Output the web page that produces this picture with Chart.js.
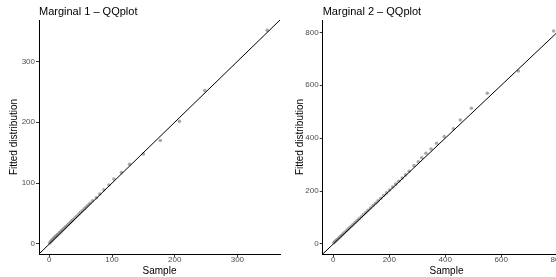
<!DOCTYPE html>
<html>
<head>
<meta charset="utf-8">
<script src="https://cdn.jsdelivr.net/npm/chart.js@4/dist/chart.umd.min.js"></script>
<style>
html,body{margin:0;padding:0;background:#fff;overflow:hidden;width:556px;height:277px;}
.wrap{position:absolute;top:0;height:277px;}
</style>
</head>
<body>
<div class="wrap" style="left:0;width:290px;"><canvas id="c1" width="290" height="277"></canvas></div>
<div class="wrap" style="left:278px;width:300px;"><canvas id="c2" width="300" height="277"></canvas></div>
<script>
// ---- Panel 1 data ----
const title1 = "Marginal 1 \u2013 QQplot";
const sample1 = [0.6,2,3,4,5,6,7,8,9,10,11,12,13,14,16,17,19,20,22,24,26,28,30,32,34,36,38,41,44,47,50,53,56,59,62,65,69,75,80.5,87,95,103,115,128,150,177,207.5,248,347.6];
const fitted1 = [1.6,3.5,4.5,6,7,8,9,10,11,12,13,14,15,16,18,19,21,22,24,26,28,30,32,34,36,38,40,43,46,49,52,55,58,61,64,67,71,76,82,89,97,106.6,117.5,131,148,170,201.5,252,351];
const limits1 = [-16.5, 368];
const ticks1 = [0, 100, 200, 300];

// ---- Panel 2 data ----
const title2 = "Marginal 2 \u2013 QQplot";
const sample2 = [2,6,10,14,19,24,29,34,40,46,52,58,64,71,78,85,92,100,108,116,124,133,142,151,160,170,180,190,201,212,223,234,246,258,271,288,303.6,316,331,349,369,396,429,453.6,493,550,661,787];
const fitted2 = [5,9,13,17,22,27,32,37,43,49,55,61,67,74,81,88,95,103,111,119,127,136,145,154,163,173,183,193,204,215,226,237,249,261,275,296,311,326,343,359,380.5,405.6,435,468.6,513,569.5,654,805];
const limits2 = [-38, 846.6];
const ticks2 = [0, 200, 400, 600, 800];

const xLabel = "Sample";
const yLabel = "Fitted distribution";

const FONT = "'Liberation Sans', Arial, Helvetica, sans-serif";

function makeChart(id, title, xs, ys, lim, ticks, yAxisWidth, padRight, yTitlePad) {
  const pts = xs.map((x, i) => ({x: x, y: ys[i]}));
  const line = lim.map(v => ({x: v, y: v}));
  const titlePlugin = {
    id: 'panelTitle',
    afterDraw(chart) {
      const ctx = chart.ctx;
      ctx.save();
      ctx.font = "11px " + FONT;
      ctx.fillStyle = "#000";
      ctx.textAlign = "left";
      ctx.textBaseline = "alphabetic";
      ctx.fillText(title, chart.chartArea.left, 15);
      ctx.restore();
    }
  };
  const axisCommon = (isX) => ({
    type: 'linear',
    min: lim[0],
    max: lim[1],
    afterBuildTicks(scale) { scale.ticks = ticks.map(v => ({value: v})); },
    grid: {display: true, drawOnChartArea: false, drawTicks: true, tickLength: 3, tickColor: '#333', tickWidth: 1},
    border: {display: true, color: '#000', width: 1},
    ticks: {autoSkip: false, maxRotation: 0, color: '#4d4d4d', padding: isX ? -2 : 1, font: {family: FONT, size: 8}},
    title: {display: true, text: isX ? xLabel : yLabel, color: '#000', font: {family: FONT, size: 10},
            padding: isX ? {top: 0, bottom: 0} : {top: yTitlePad, bottom: 0}}
  });
  const xAxis = axisCommon(true);
  xAxis.afterFit = function(s) { s.height = 23; };
  const yAxis = axisCommon(false);
  yAxis.afterFit = function(s) { s.width = yAxisWidth; };
  return new Chart(document.getElementById(id), {
    type: 'scatter',
    data: {
      datasets: [
        {data: line, showLine: true, borderColor: '#000', borderWidth: 1, pointRadius: 0, order: 0},
        {data: pts, pointRadius: 1.8, pointBackgroundColor: 'rgba(140,140,140,0.75)', pointBorderWidth: 0, order: 1}
      ]
    },
    options: {
      responsive: false,
      animation: false,
      layout: {padding: {left: 0, right: padRight, top: 20, bottom: 0}},
      plugins: {legend: {display: false}, tooltip: {enabled: false}, title: {display: false}},
      scales: {x: xAxis, y: yAxis}
    },
    plugins: [titlePlugin]
  });
}

makeChart('c1', title1, sample1, fitted1, limits1, ticks1, 39, 10, 8.4);
makeChart('c2', title2, sample2, fitted2, limits2, ticks2, 44.7, 7.7, 16);
</script>
</body>
</html>
